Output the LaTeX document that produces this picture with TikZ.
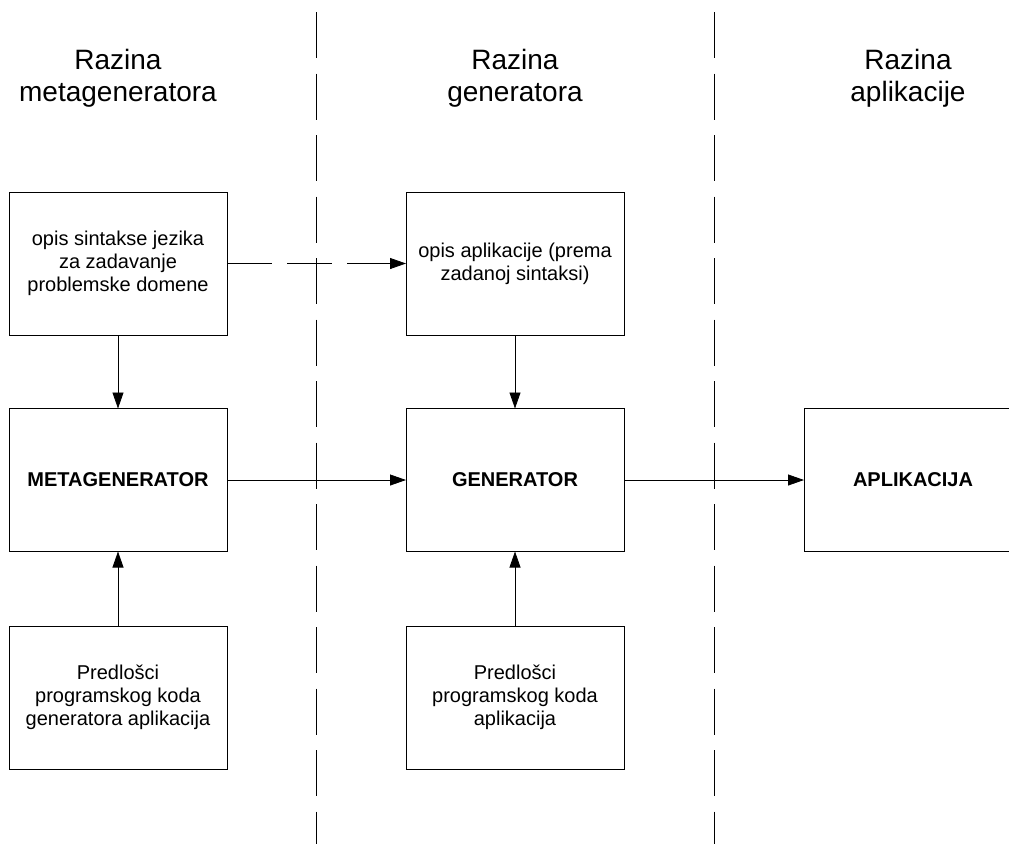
\documentclass[tikz,border=0pt]{standalone}
\usepackage{fontspec}
\setmainfont{Liberation Sans}
\usetikzlibrary{arrows.meta}
\begin{document}
\begin{tikzpicture}[x=1pt,y=-1pt,
  box/.style={draw, line width=0.8pt, minimum width=218pt, minimum height=143pt, inner sep=0pt, outer sep=0pt, align=center, font=\fontsize{20}{23}\selectfont},
  title/.style={anchor=north, inner sep=0pt, align=center, font=\fontsize{28}{32}\selectfont},
  conn/.style={line width=0.8pt, -{Triangle[length=16pt,width=11pt]}},
  sep/.style={line width=0.8pt, dash pattern=on 46pt off 15.5pt}]
\useasboundingbox (0,0) rectangle (1009,844);
\clip (0,0) rectangle (1009,844);
% titles
\node[title] (t1) at (118,49) {Razina\\metageneratora};
\node[title] (t2) at (515,49) {Razina\\generatora};
\node[title] (t3) at (908,49) {Razina\\aplikacije};
% separators
\coordinate (s1a) at (316,12); \coordinate (s1b) at (316,844);
\coordinate (s2a) at (714,12); \coordinate (s2b) at (714,844);
\draw[sep] (s1a) -- (s1b);
\draw[sep] (s2a) -- (s2b);
% boxes
\node[box] (syn) at (118,263.5) {opis sintakse jezika\\za zadavanje\\problemske domene};
\node[box] (app) at (515,263.5) {opis aplikacije (prema\\zadanoj sintaksi)};
\node[box] (meta) at (118,480) {\textbf{METAGENERATOR}};
\node[box] (gen) at (515,480) {\textbf{GENERATOR}};
\node[box] (apl) at (913,480) {\textbf{APLIKACIJA}};
\node[box] (p1) at (118,697.5) {Predlošci\\programskog koda\\generatora aplikacija};
\node[box] (p2) at (515,697.5) {Predlošci\\programskog koda\\aplikacija};
% connectors
\draw[conn, dash pattern=on 45pt off 15pt] (syn) -- (app);
\draw[conn] (syn) -- (meta);
\draw[conn] (app) -- (gen);
\draw[conn] (meta) -- (gen);
\draw[conn] (gen) -- (apl);
\draw[conn] (p1) -- (meta);
\draw[conn] (p2) -- (gen);
\end{tikzpicture}
\end{document}
